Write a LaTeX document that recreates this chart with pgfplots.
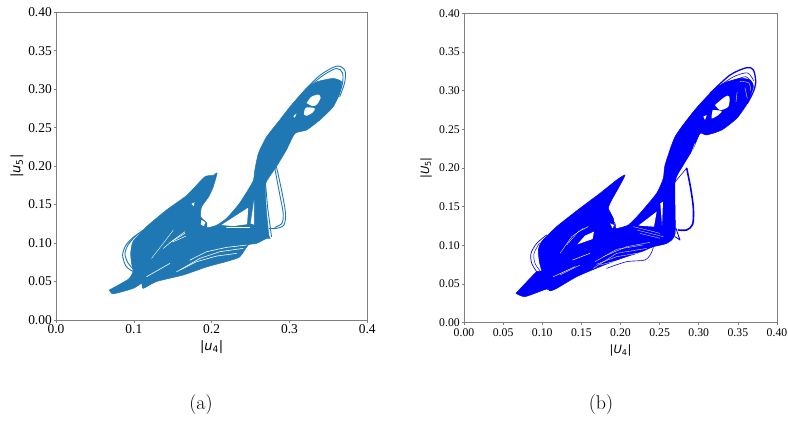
\documentclass[border=0pt]{standalone}
\usepackage{fontspec}
\setmainfont{Liberation Serif}
\newfontfamily\lmfont{Latin Modern Roman}
\newfontfamily\djvfont{DejaVu Sans}
\usepackage{pgfplots}
\pgfplotsset{compat=1.18}
\definecolor{tabblue}{HTML}{1F77B4}
\definecolor{spine}{gray}{0.5}
\begin{document}
\begin{tikzpicture}[x=1bp,y=1bp]
\useasboundingbox (0,0) rectangle (788,422);
\pgfplotsset{phase/.style={scale only axis,anchor=south west,xmin=0,xmax=0.4,ymin=0,ymax=0.4,
  axis line style={spine,line width=0.8bp},tick style={spine,line width=0.6bp},
  tick align=outside,tick pos=lower,major tick length=2.5bp,no markers,
  every axis plot/.append style={line join=round,line cap=round},
  xlabel style={at={(axis description cs:0.5,0)},anchor=center},
  ylabel style={at={(axis description cs:0,0.5)},anchor=center},
  ytick={0,0.05,...,0.41},yticklabels={0.00,0.05,0.10,0.15,0.20,0.25,0.30,0.35,0.40}}}
% ---------------- panel (a)
\begin{axis}[phase,at={(56bp,102bp)},width=311.3bp,height=307.7bp,
  xtick={0,0.1,0.2,0.3,0.4},xticklabels={0.0,0.1,0.2,0.3,0.4},
  ticklabel style={font=\fontsize{13.5}{14}\selectfont},
  xticklabel style={inner sep=1.5bp},yticklabel style={inner sep=1.5bp},
  xlabel={\fontsize{13}{14}\selectfont\djvfont|\textit{u}\textsubscript{4}|},
  ylabel={\fontsize{13}{14}\selectfont\djvfont|\textit{u}\textsubscript{5}|},
  xlabel style={yshift=-27bp},ylabel style={yshift=39bp}]
\addplot[fill=tabblue,draw=tabblue,line width=0.5bp,smooth,tension=0.35] coordinates {
(.0685,.039)(.093,.053)(.099,.063)(.097,.074)(.096,.087)(.099,.102)(.116,.121)(.142,.143)(.168,.162)(.191,.186)(.202,.188)(.207,.191)(.202,.173)(.196,.160)(.187,.147)(.186,.134)(.194,.126)(.194,.120)(.206,.123)(.219,.132)(.236,.152)(.253,.180)(.2555,.195)(.260,.2165)(.2705,.238)(.2875,.260)(.3005,.277)(.3175,.2965)(.335,.3095)(.356,.314)(.367,.3095)(.3645,.2945)(.356,.277)(.339,.260)(.322,.247)(.307,.2425)(.296,.221)(.283,.199)(.2695,.1775)(.270,.147)(.2735,.11)(.2755,.106)(.2705,.106)(.2575,.0995)(.247,.0975)(.236,.082)(.219,.076)(.1935,.069)(.1635,.0585)(.129,.05)(.112,.041)(.110,.0475)(.099,.041)(.0735,.034)(.0685,.039)};
% gaps
\addplot[fill=white,draw=none] coordinates {(.2125,.1235)(.247,.146)(.2455,.1245)(.2275,.122)(.2125,.1235)};
\addplot[fill=white,draw=none] coordinates {(.25,.1255)(.2545,.156)(.2545,.124)(.25,.1255)};
\addplot[fill=white,draw=none,smooth] coordinates {(.322,.282)(.328,.29)(.337,.293)(.34,.289)(.3355,.2805)(.33,.278)(.322,.282)};
\addplot[fill=white,draw=none,smooth] coordinates {(.3185,.2675)(.321,.276)(.3325,.275)(.3295,.2695)(.322,.2655)(.3185,.2675)};
\addplot[fill=white,draw=none] coordinates {(.305,.265)(.309,.2685)(.307,.263)(.305,.265)};
\addplot[fill=white,draw=none] coordinates {(.187,.13)(.192,.127)(.190,.122)(.186,.124)(.187,.13)};
\addplot[fill=white,draw=none] coordinates {(.174,.151)(.178,.153)(.177,.148)(.174,.151)};
\addplot[white,line width=0.6bp] coordinates {(.1164,.0563)(.1464,.0736)};
\addplot[white,line width=0.6bp] coordinates {(.1549,.0628)(.1806,.0758)(.2063,.0831)(.232,.0866)};
\addplot[white,line width=0.6bp] coordinates {(.1592,.0650)(.1849,.0801)(.2106,.0888)(.2405,.0931)};
\addplot[white,line width=0.6bp] coordinates {(.1721,.0779)(.1935,.0888)(.2191,.0944)(.2448,.0974)};
\addplot[white,line width=0.4bp] coordinates {(.1228,.0801)(.1378,.0996)(.1507,.1169)};
\addplot[white,line width=0.5bp] coordinates {(.1378,.0931)(.1507,.1039)(.1656,.1147)};
\addplot[white,line width=0.5bp] coordinates {(.1464,.1005)(.1656,.1126)};
\addplot[white,line width=0.5bp] coordinates {(.1507,.1018)(.1669,.1091)};
\addplot[white,line width=0.4bp] coordinates {(.2191,.1204)(.2491,.1204)};
% single orbits
\addplot[tabblue,line width=0.9bp,smooth] coordinates {(.3175,.2965)(.339,.318)(.3605,.330)(.3711,.3247)(.3711,.3095)(.3645,.290)};
\addplot[tabblue,line width=0.9bp,smooth] coordinates {(.3197,.2988)(.3432,.318)(.3604,.327)(.3681,.3213)(.3681,.3074)(.3625,.290)};
\addplot[tabblue,line width=0.9bp,smooth] coordinates {(.099,.063)(.0899,.070)(.0856,.0844)(.0899,.0974)(.0993,.1074)(.1121,.1169)};
\addplot[tabblue,line width=0.9bp,smooth] coordinates {(.1006,.065)(.0929,.0736)(.0886,.0857)(.0929,.0983)(.1036,.1104)};
\addplot[tabblue,line width=0.9bp,smooth] coordinates {(.2833,.199)(.2898,.1689)(.2949,.1386)(.2928,.1234)(.2833,.1191)(.2739,.1191)};
\addplot[tabblue,line width=0.9bp,smooth] coordinates {(.2812,.197)(.2868,.1667)(.2919,.1386)(.2902,.1256)(.2812,.1204)};
\addplot[tabblue,line width=0.9bp] coordinates {(.2692,.1775)(.2718,.1472)(.2769,.1083)};
\end{axis}
% ---------------- panel (b)
\begin{axis}[phase,at={(464bp,99.3bp)},width=313bp,height=309.4bp,
  xtick={0,0.05,...,0.41},xticklabels={0.00,0.05,0.10,0.15,0.20,0.25,0.30,0.35,0.40},
  ticklabel style={font=\fontsize{11.8}{13}\selectfont},
  xticklabel style={inner sep=3bp},yticklabel style={inner sep=1.5bp},
  xlabel={\fontsize{11.5}{13}\selectfont\djvfont|\textit{U}\textsubscript{4}|},
  ylabel={\fontsize{11.5}{13}\selectfont\djvfont|\textit{U}\textsubscript{5}|},
  xlabel style={yshift=-28bp},ylabel style={yshift=38bp}]
\addplot[fill=blue,draw=blue,line width=0.5bp,smooth,tension=0.35] coordinates {
(.0664,.038)(.0929,.066)(.0993,.066)(.0963,.0789)(.095,.094)(.0993,.105)(.1184,.1242)(.1482,.1479)(.1738,.1673)(.1951,.1845)(.2058,.191)(.1994,.178)(.1887,.1586)(.1845,.1479)(.1908,.135)(.1938,.122)(.21,.1263)(.2249,.1414)(.2462,.1673)(.2547,.1867)(.2569,.2039)(.2697,.2405)(.2931,.2728)(.3144,.2965)(.3314,.3095)(.3527,.3159)(.3655,.3138)(.3698,.3052)(.3621,.2836)(.3485,.2642)(.3293,.2491)(.3101,.2427)(.3016,.2448)(.2931,.2254)(.2803,.2039)(.2697,.182)(.2697,.115)(.259,.1026)(.242,.0983)(.2249,.091)(.2036,.084)(.1738,.0724)(.144,.0595)(.1184,.0444)(.1099,.041)(.1056,.0436)(.078,.0337)(.0664,.038)};
\addplot[fill=white,draw=none] coordinates {(.2228,.1255)(.2462,.1436)(.2428,.1242)(.2228,.1255)};
\addplot[fill=white,draw=none] coordinates {(.2509,.1543)(.2543,.1565)(.2531,.1255)(.2509,.1543)};
\addplot[fill=white,draw=none] coordinates {(.1448,.1013)(.1546,.1125)(.1661,.1177)(.1644,.1082)(.1448,.1013)};
\addplot[fill=white,draw=none,smooth] coordinates {(.3208,.2815)(.3336,.2922)(.3391,.2922)(.3378,.2793)(.3272,.275)(.3208,.2815)};
\addplot[fill=white,draw=none,smooth] coordinates {(.3178,.275)(.3293,.2737)(.325,.2685)(.3165,.2642)(.3178,.275)};
\addplot[fill=white,draw=none] coordinates {(.3059,.2664)(.3101,.2685)(.3080,.2620)(.3059,.2664)};
\addplot[fill=white,draw=none] coordinates {(.1866,.1285)(.1917,.1263)(.19,.122)(.1866,.1285)};
\addplot[white,line width=0.35bp] coordinates {(.1227,.0897)(.1376,.1112)(.1525,.122)};
\addplot[white,line width=0.35bp] coordinates {(.1312,.1005)(.1461,.1177)(.1589,.1242)};
\addplot[white,line width=0.5bp] coordinates {(.1389,.0811)(.161,.0897)};
\addplot[white,line width=0.5bp] coordinates {(.1142,.0595)(.1419,.0724)};
\addplot[white,line width=0.4bp] coordinates {(.1227,.0617)(.1482,.0746)};
\addplot[white,line width=0.35bp] coordinates {(.1653,.0703)(.1951,.0897)(.2334,.0961)};
\addplot[white,line width=0.35bp] coordinates {(.1695,.0755)(.1951,.0854)(.2334,.0918)};
\addplot[white,line width=0.35bp] coordinates {(.1738,.0746)(.1994,.0811)(.2356,.0897)};
\addplot[white,line width=0.35bp] coordinates {(.1674,.0789)(.1951,.0949)(.2292,.1005)};
\addplot[white,line width=0.35bp] coordinates {(.1781,.0854)(.2079,.0983)(.2377,.1039)};
\addplot[white,line width=0.3bp] coordinates {(.2164,.1242)(.2505,.1155)};
\addplot[white,line width=0.3bp] coordinates {(.2207,.1199)(.2547,.1112)};
\addplot[white,line width=0.3bp] coordinates {(.2249,.1155)(.2505,.1091)};
\addplot[white,line width=0.4bp] coordinates {(.2952,.2319)(.2867,.2082)};
\addplot[white,line width=0.35bp,smooth] coordinates {(.3527,.3120)(.3640,.3100)(.3665,.3000)};
\addplot[white,line width=0.35bp,smooth] coordinates {(.3590,.3040)(.3620,.2900)};
\addplot[white,line width=0.35bp,smooth] coordinates {(.3490,.2980)(.3475,.2850)};
% single orbits
\addplot[blue,line width=1.3bp,smooth] coordinates {(.3144,.2965)(.34,.3202)(.3613,.3297)(.3698,.3267)(.3728,.3116)(.3698,.2987)(.3621,.2836)};
\addplot[blue,line width=0.6bp,smooth] coordinates {(.3200,.2990)(.3427,.3119)(.3600,.3180)(.3680,.3100)};
\addplot[blue,line width=0.6bp,smooth] coordinates {(.3180,.2990)(.3427,.3170)(.3620,.3230)(.3700,.3130)};
\addplot[blue,line width=1.6bp,smooth] coordinates {(.2846,.1996)(.2897,.1737)(.2931,.1479)(.2922,.1272)(.2846,.1199)(.2739,.1199)};
\addplot[blue,line width=0.9bp] coordinates {(.2709,.122)(.276,.1069)(.2697,.1112)};
\addplot[blue,line width=0.6bp] coordinates {(.2846,.2000)(.2697,.1820)};
\addplot[blue,line width=0.6bp,smooth] coordinates {(.1823,.0703)(.2079,.0789)(.2313,.0811)(.2398,.091)(.242,.0983)};
\addplot[blue,line width=0.7bp,smooth] coordinates {(.0929,.066)(.0865,.0768)(.0856,.0897)(.0929,.1026)(.1056,.1134)};
\addplot[blue,line width=0.5bp,smooth] coordinates {(.098,.066)(.0907,.0768)(.0895,.0897)(.0963,.1026)};
\addplot[blue,line width=0.5bp,smooth] coordinates {(.1845,.135)(.193,.1285)(.193,.122)(.1866,.1199)};
\end{axis}
\node[font=\lmfont\fontsize{20}{22}\selectfont] at (201,17) {(a)};
\node[font=\lmfont\fontsize{20}{22}\selectfont] at (601,17) {(b)};
\end{tikzpicture}
\end{document}
